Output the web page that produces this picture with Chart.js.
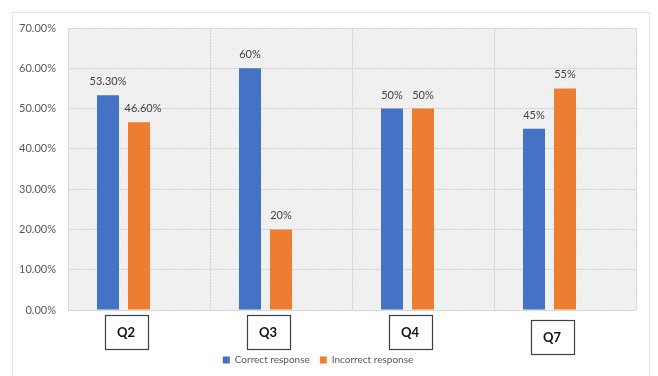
<!DOCTYPE html>
<html>
<head>
<meta charset="utf-8">
<script src="https://cdn.jsdelivr.net/npm/chart.js@4"></script>
<style>
  html, body { margin: 0; padding: 0; background: #fff; }
  #wrap { position: relative; width: 658px; height: 376px; }
  #frame { position: absolute; left: 12px; top: 12px; width: 638px; height: 372px; border: 1px solid #e4e4e4; box-sizing: border-box; }
  canvas { position: absolute; left: 0; top: 0; }
</style>
</head>
<body>
<div id="wrap">
  <div id="frame"></div>
  <canvas id="c" width="658" height="376"></canvas>
</div>
<script>
const categories = ['Q2', 'Q3', 'Q4', 'Q7'];
const correctValues = [53.3, 60, 50, 45];
const incorrectValues = [46.6, 20, 50, 55];
const correctLabels = ['53.30%', '60%', '50%', '45%'];
const incorrectLabels = ['46.60%', '20%', '50%', '55%'];
const seriesNames = ['Correct response', 'Incorrect response'];
const yTicks = [0, 10, 20, 30, 40, 50, 60, 70];

const FONT = 'Lato, "Open Sans", sans-serif';

// hatched background pattern
function makePattern(ctx) {
  const p = document.createElement('canvas');
  p.width = 3; p.height = 3;
  const pc = p.getContext('2d');
  pc.fillStyle = '#f5f5f5';
  pc.fillRect(0, 0, 3, 3);
  pc.fillStyle = '#e6e6e6';
  for (let i = 0; i < 3; i++) pc.fillRect(i, 2 - i, 1, 1);
  return ctx.createPattern(p, 'repeat');
}

const bgPlugin = {
  id: 'bg',
  beforeDraw(chart) {
    const { ctx, chartArea: a } = chart;
    ctx.save();
    ctx.fillStyle = makePattern(ctx);
    ctx.fillRect(a.left, a.top, a.right - a.left, a.bottom - a.top);
    ctx.restore();
  }
};

const valueLabelPlugin = {
  id: 'valueLabels',
  afterDatasetsDraw(chart) {
    const { ctx } = chart;
    const lbls = [correctLabels, incorrectLabels];
    ctx.save();
    ctx.font = '11px ' + FONT;
    ctx.fillStyle = '#404040';
    ctx.textAlign = 'center';
    ctx.textBaseline = 'bottom';
    [0, 1].forEach(di => {
      const meta = chart.getDatasetMeta(di);
      meta.data.forEach((bar, i) => {
        const dx = (di === 1 && i === 0) ? 4 : 0;
        ctx.fillText(lbls[di][i], bar.x + dx, bar.y - 8);
      });
    });
    ctx.restore();
  }
};

const boxOffsets = [0, 0, 0, 5];
const catLabelPlugin = {
  id: 'catLabels',
  afterDraw(chart) {
    const { ctx } = chart;
    const xs = chart.scales.x;
    const bottom = chart.chartArea.bottom;
    ctx.save();
    categories.forEach((c, i) => {
      const cx = xs.getPixelForValue(i) - 13;
      const top = bottom + 5 + boxOffsets[i];
      const w = 43, h = 34;
      ctx.fillStyle = '#ffffff';
      ctx.fillRect(cx - w / 2, top, w, h);
      ctx.strokeStyle = '#404040';
      ctx.lineWidth = 1.2;
      ctx.strokeRect(Math.round(cx - w / 2) + 0.5, Math.round(top) + 0.5, w, h);
      ctx.fillStyle = '#111111';
      ctx.font = 'bold 13px ' + FONT;
      ctx.textAlign = 'center';
      ctx.textBaseline = 'middle';
      ctx.fillText(c, cx, top + h / 2 + 1);
    });
    ctx.restore();
  }
};

new Chart(document.getElementById('c'), {
  type: 'bar',
  data: {
    labels: categories,
    datasets: [
      { label: seriesNames[0], data: correctValues, backgroundColor: '#4472C4' },
      { label: seriesNames[1], data: incorrectValues, backgroundColor: '#ED7D31' },
      { label: '', data: categories.map(() => null), backgroundColor: 'rgba(0,0,0,0)' }
    ]
  },
  options: {
    responsive: false,
    animation: false,
    devicePixelRatio: 1,
    categoryPercentage: 0.655,
    barPercentage: 0.71,
    layout: { padding: { left: 0, right: 22, top: 28, bottom: 1 } },
    plugins: {
      legend: {
        position: 'bottom',
        labels: {
          filter: item => item.text !== '',
          boxWidth: 7, boxHeight: 7,
          padding: 10,
          color: '#595959',
          font: { family: FONT, size: 10 }
        }
      },
      tooltip: { enabled: false }
    },
    scales: {
      x: {
        grid: { color: '#d9d9d9', drawTicks: false, offset: true },
        border: { display: false },
        ticks: { display: false },
        afterFit(s) { s.height = 35; }
      },
      y: {
        min: 0, max: 70,
        afterBuildTicks(s) { s.ticks = yTicks.map(v => ({ value: v })); },
        grid: { color: '#d9d9d9', drawTicks: false },
        border: { display: false },
        ticks: {
          padding: 12,
          color: '#595959',
          font: { family: FONT, size: 11 },
          callback: v => v.toFixed(2) + '%'
        },
        afterFit(s) { s.width = 68; }
      }
    }
  },
  plugins: [bgPlugin, valueLabelPlugin, catLabelPlugin]
});
</script>
</body>
</html>
